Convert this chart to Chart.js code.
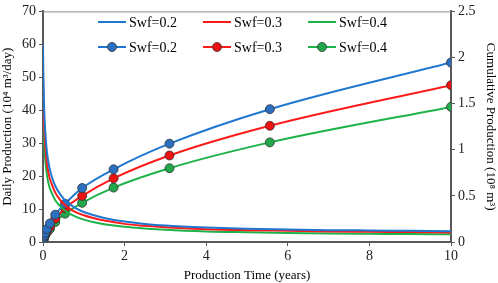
<!DOCTYPE html>
<html>
<head>
<meta charset="utf-8">
<script src="https://cdn.jsdelivr.net/npm/chart.js@4.4.0/dist/chart.umd.min.js"></script>
<style>
  html, body { margin: 0; padding: 0; background: #fff; }
  #wrap { width: 498px; height: 283px; }
</style>
</head>
<body>
<div id="wrap"><canvas id="c" width="498" height="283"></canvas></div>
<script>
// daily production curves (10^4 m3/day)
const rateTime = [0, 0.01, 0.02, 0.04, 0.07, 0.1, 0.15, 0.2, 0.3, 0.45, 0.6, 0.8, 1, 1.25, 1.5, 2, 2.5, 3, 4, 5, 6, 7, 8, 9, 10];
const rate02 = [60, 50, 44, 37, 31, 27, 23, 20.5, 17, 14, 12, 10.3, 9.1, 8.1, 7.3, 6.2, 5.5, 5.0, 4.4, 4.0, 3.8, 3.6, 3.5, 3.4, 3.3];
const rate03 = [52.5, 44, 38.5, 32.5, 27, 23.5, 20, 18, 15, 12.3, 10.6, 9.1, 8.1, 7.2, 6.5, 5.5, 4.9, 4.45, 3.9, 3.6, 3.4, 3.2, 3.1, 3.0, 2.9];
const rate04 = [45, 37.5, 33, 27.5, 23, 20, 17, 15.3, 12.7, 10.5, 9.0, 7.7, 6.8, 6.0, 5.4, 4.6, 4.1, 3.7, 3.2, 2.95, 2.75, 2.6, 2.5, 2.4, 2.35];

// cumulative production (10^8 m3)
const cumTime = [0, 0.005, 0.009, 0.016, 0.029, 0.053, 0.095, 0.17, 0.3, 0.54, 0.96, 1.73, 3.1, 5.56, 10];
const cum02 = [0, 0.02, 0.035, 0.05, 0.07, 0.1, 0.14, 0.2, 0.296, 0.414, 0.585, 0.788, 1.066, 1.44, 1.946];
const cum03 = [0, 0.017, 0.03, 0.042, 0.06, 0.085, 0.118, 0.164, 0.253, 0.367, 0.50, 0.69, 0.938, 1.26, 1.70];
const cum04 = [0, 0.015, 0.026, 0.036, 0.051, 0.073, 0.102, 0.142, 0.217, 0.307, 0.425, 0.59, 0.80, 1.08, 1.465];

const seriesNames = ["Swf=0.2", "Swf=0.3", "Swf=0.4"];
const lineColors = ["#1f77d0", "#ff1a1a", "#1db24a"];
const dotColors = ["#2a6fc0", "#ee1111", "#22a84b"];

const axisColor = "#595959";
const serif = "'Liberation Serif', 'Times New Roman', serif";

function pts(xs, ys) {
    return xs.map((x, i) => ({ x: x, y: ys[i] }));
}

const rates = [rate02, rate03, rate04];
const cums = [cum02, cum03, cum04];
const datasets = [];

rates.forEach((r, i) => {
    datasets.push({
        label: seriesNames[i],
        data: pts(rateTime, r),
        yAxisID: "y",
        borderColor: lineColors[i],
        borderWidth: 2,
        pointRadius: 0,
        cubicInterpolationMode: "monotone",
        fill: false
    });
});
cums.forEach((c, i) => {
    datasets.push({
        label: seriesNames[i],
        data: pts(cumTime, c),
        yAxisID: "y2",
        borderColor: lineColors[i],
        borderWidth: 2,
        pointRadius: 4.5,
        pointBackgroundColor: dotColors[i],
        pointBorderColor: "#333",
        pointBorderWidth: 0.8,
        cubicInterpolationMode: "monotone",
        fill: false
    });
});

// legend drawn by hand: 2 rows x 3 columns inside the plot
const legendPlugin = {
    id: "boxLegend",
    afterDraw(chart) {
        const ctx = chart.ctx;
        const cols = [98, 203, 308];
        const rows = [22, 47];
        ctx.save();
        ctx.font = "14px " + serif;
        ctx.textBaseline = "middle";
        rows.forEach((y, r) => {
            cols.forEach((x, i) => {
                ctx.strokeStyle = lineColors[i];
                ctx.lineWidth = 2;
                ctx.beginPath();
                ctx.moveTo(x, y);
                ctx.lineTo(x + 28, y);
                ctx.stroke();
                if (r === 1) {
                    ctx.beginPath();
                    ctx.arc(x + 14, y, 4.5, 0, Math.PI * 2);
                    ctx.fillStyle = dotColors[i];
                    ctx.fill();
                    ctx.strokeStyle = "#333";
                    ctx.lineWidth = 0.8;
                    ctx.stroke();
                }
                ctx.fillStyle = "#000";
                ctx.fillText(seriesNames[i], x + 31, y + 1);
            });
        });
        // thin top border
        const a = chart.chartArea;
        ctx.strokeStyle = "#8c8c8c";
        ctx.lineWidth = 1;
        ctx.beginPath();
        ctx.moveTo(a.left, a.top + 0.5);
        ctx.lineTo(a.right, a.top + 0.5);
        ctx.stroke();
        ctx.restore();
    }
};

const tickFont = { family: serif, size: 14 };
const titleFont = { family: serif, size: 13 };

new Chart(document.getElementById("c"), {
    type: "line",
    data: { datasets: datasets },
    options: {
        responsive: false,
        animation: false,
        layout: { padding: { top: 0, left: 0, right: 0, bottom: 0 } },
        plugins: { legend: { display: false }, tooltip: { enabled: false } },
        scales: {
            x: {
                type: "linear",
                min: 0, max: 10,
                ticks: { stepSize: 2, font: tickFont, color: "#222", padding: 2 },
                grid: { drawOnChartArea: false, drawTicks: true, tickLength: 4, color: axisColor },
                border: { color: axisColor, width: 2 },
                title: { display: true, text: "Production Time (years)", font: titleFont, color: "#000", padding: { top: 1, bottom: 0 } },
                afterFit(s) { s.height = 41; }
            },
            y: {
                position: "left",
                min: 0, max: 70,
                ticks: { stepSize: 10, font: tickFont, color: "#222", padding: 3 },
                grid: { drawOnChartArea: false, drawTicks: true, tickLength: 4, color: axisColor },
                border: { color: axisColor, width: 2 },
                title: { display: true, text: "Daily Production (10⁴ m³/day)", font: titleFont, color: "#000", padding: 0 },
                afterFit(s) { s.width = 43; }
            },
            y2: {
                position: "right",
                min: 0, max: 2.5,
                ticks: { stepSize: 0.5, font: tickFont, color: "#222", padding: 3,
                         callback: v => String(Math.round(v * 10) / 10) },
                grid: { drawOnChartArea: false, drawTicks: true, tickLength: 4, color: axisColor },
                border: { color: axisColor, width: 2 },
                title: { display: true, text: "Cumulative Production (10⁸ m³)", font: titleFont, color: "#000", padding: 0 },
                afterFit(s) { s.width = 47; }
            }
        }
    },
    plugins: [legendPlugin]
});
</script>
</body>
</html>
